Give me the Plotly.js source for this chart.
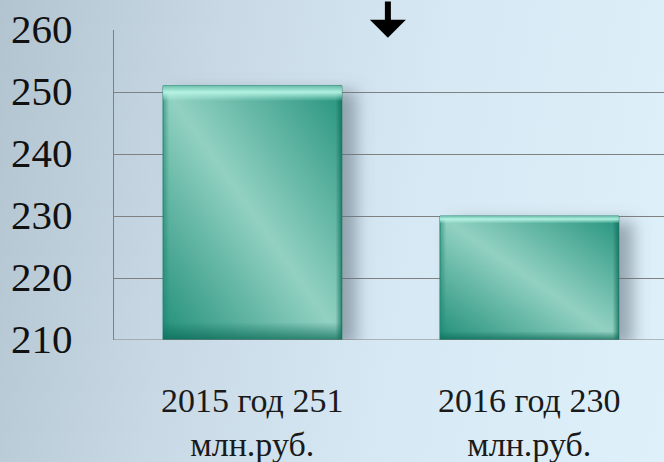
<!DOCTYPE html>
<html>
<head>
<meta charset="utf-8">
<script src="https://cdn.plot.ly/plotly-3.0.1.min.js"></script>
<style>
  html, body { margin: 0; padding: 0; overflow: hidden; }
  body { width: 664px; height: 462px;
         background: linear-gradient(100deg, #b3c4d1 0%, #c8d9e5 30%, #d6e8f3 60%, #def0fa 100%); }
  #chart { width: 664px; height: 462px; }
</style>
</head>
<body>
<div id="chart"></div>
<script>
const categories = ["2015 год 251<br>млн.руб.", "2016 год 230<br>млн.руб."];
const values = [251, 230];
const axisBase = 210;
const yTicks = [210, 220, 230, 240, 250, 260];

const trace = {
  type: 'bar',
  x: categories,
  y: values.map(v => v - axisBase),
  base: axisBase,
  marker: { color: '#5cb8a4', line: { color: '#2a8a76', width: 1 } },
  hoverinfo: 'none'
};

const xLabelAnns = categories.map(c => ({
  xref: 'x', yref: 'paper', x: c, y: 0, yanchor: 'top', xanchor: 'center',
  yshift: -40, text: c, showarrow: false,
  font: { family: 'serif', size: 34, color: '#1a1a1a' }
}));
const yLabelAnns = yTicks.map(t => ({
  xref: 'paper', yref: 'y', x: 0, y: t, xanchor: 'right', yanchor: 'middle',
  xshift: -39, yshift: 1, text: String(t), showarrow: false,
  font: { family: 'serif', size: 41, color: '#111111' }
}));

const layout = {
  width: 664, height: 462,
  margin: { l: 114, r: 0, t: 30, b: 122 },
  paper_bgcolor: 'rgba(0,0,0,0)',
  plot_bgcolor: 'rgba(0,0,0,0)',
  bargap: 0.354,
  showlegend: false,
  hovermode: false,
  xaxis: {
    type: 'category',
    range: [-0.5, 1.486],
    showgrid: false,
    showline: false,
    zeroline: false,
    ticks: '',
    showticklabels: false
  },
  yaxis: {
    range: [210, 260],
    tickvals: yTicks,
    showgrid: true,
    gridcolor: '#808080',
    gridwidth: 1,
    showline: true,
    linecolor: '#808080',
    linewidth: 1,
    zeroline: false,
    ticks: '',
    showticklabels: false
  },
  shapes: [{
    type: 'line', xref: 'paper', yref: 'y', x0: 0, x1: 1, y0: 210, y1: 210,
    line: { color: '#808080', width: 1 }
  }],
  annotations: xLabelAnns.concat(yLabelAnns).concat([{
    xref: 'x', yref: 'paper', x: 0.489, y: 0.975,
    ax: 0, ay: -38, axref: 'pixel', ayref: 'pixel',
    text: '', showarrow: true, arrowhead: 1, arrowwidth: 6, arrowsize: 1, arrowcolor: '#000000'
  }])
};

Plotly.newPlot('chart', [trace], layout, { displayModeBar: false }).then(function (gd) {
  const svg = gd.querySelector('svg.main-svg');
  const ns = 'http://www.w3.org/2000/svg';
  let defs = svg.querySelector('defs');
  if (!defs) { defs = document.createElementNS(ns, 'defs'); svg.insertBefore(defs, svg.firstChild); }
  defs.insertAdjacentHTML('beforeend',
    '<linearGradient id="barGrad" x1="0" y1="1" x2="1" y2="0">' +
      '<stop offset="0" stop-color="#218f79"/>' +
      '<stop offset="0.5" stop-color="#92d1c2"/>' +
      '<stop offset="1" stop-color="#25937d"/>' +
    '</linearGradient>' +
    '<linearGradient id="bevelV" x1="0" y1="0" x2="0" y2="1">' +
      '<stop offset="0" stop-color="#6fc2ae" stop-opacity="0.9"/>' +
      '<stop offset="0.025" stop-color="#b8f5e6" stop-opacity="0.95"/>' +
      '<stop offset="0.06" stop-color="#b8f5e6" stop-opacity="0"/>' +
      '<stop offset="0.93" stop-color="#0d6b58" stop-opacity="0"/>' +
      '<stop offset="1" stop-color="#0d6b58" stop-opacity="0.75"/>' +
    '</linearGradient>' +
    '<linearGradient id="bevelH" x1="0" y1="0" x2="1" y2="0">' +
      '<stop offset="0" stop-color="#1e8570" stop-opacity="0.6"/>' +
      '<stop offset="0.035" stop-color="#1e8570" stop-opacity="0"/>' +
      '<stop offset="0.965" stop-color="#0f6a57" stop-opacity="0"/>' +
      '<stop offset="1" stop-color="#0f6a57" stop-opacity="0.75"/>' +
    '</linearGradient>' +
    '<filter id="barShadow" x="-20%" y="-10%" width="160%" height="125%">' +
      '<feDropShadow dx="14" dy="6" stdDeviation="8" flood-color="#5e6e7c" flood-opacity="0.55"/>' +
    '</filter>');
  gd.querySelectorAll('.barlayer .point path').forEach(function (p) {
    p.style.fill = 'url(#barGrad)';
    p.setAttribute('filter', 'url(#barShadow)');
    ['bevelH', 'bevelV'].forEach(function (id) {
      const c = p.cloneNode(true);
      c.removeAttribute('filter');
      c.style.fill = 'url(#' + id + ')';
      c.style.stroke = 'none';
      p.parentNode.appendChild(c);
    });
  });
});
</script>
</body>
</html>
